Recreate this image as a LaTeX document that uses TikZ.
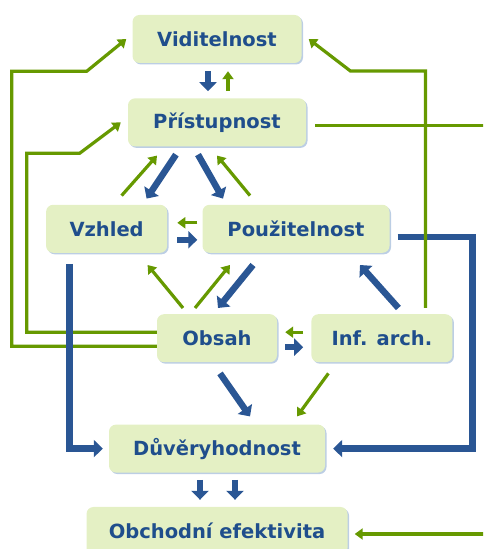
\documentclass[tikz,border=0pt]{standalone}
\usepackage{fontspec}
\setmainfont{DejaVu Sans}
\usetikzlibrary{positioning,arrows.meta,shadows}
\newcommand{\WebQualityUnit}{10}
\definecolor{qualityfill}{RGB}{228,240,196}
\definecolor{qualityshadow}{RGB}{188,206,228}
\definecolor{qualitytext}{RGB}{31,78,140}
\definecolor{qualityblue}{RGB}{42,86,148}
\definecolor{qualitygreen}{RGB}{102,153,0}
\tikzset{
	qualitybox/.style={rounded corners=7pt, fill=qualityfill, minimum height=48pt, inner sep=0pt,
		text=qualitytext, font=\fontsize{19.5}{22}\selectfont\bfseries,
		drop shadow={shadow xshift=1.5pt, shadow yshift=-1.5pt, fill=qualityshadow, opacity=1}},
	bluearrow/.style={draw=qualityblue, line width=6.5pt, -{Triangle[width=17pt,length=9pt]}},
	greenarrow/.style={draw=qualitygreen, line width=3.2pt, -{Triangle[width=11pt,length=8pt]}},
}

\begin{document}
\begin{tikzpicture}
		\clip (0,0) rectangle (483pt,549pt);
		\node[qualitybox, minimum width=169pt] (vid) at (217pt,510pt) {Viditelnost};
		\node[qualitybox, minimum width=178pt, below=\WebQualityUnit*3.5 pt of vid] (pri) {Přístupnost};
		\node[qualitybox, minimum width=187pt, below=\WebQualityUnit*5.8 pt of pri, xshift=\WebQualityUnit*7.9 pt] (pou) {Použitelnost};
		\node[qualitybox, minimum width=121pt, left=\WebQualityUnit*3.5 pt of pou] (vzh) {Vzhled};
		\node[qualitybox, minimum width=120pt, below=\WebQualityUnit*6.1 pt of pou, xshift=-\WebQualityUnit*7.9 pt] (obs) {Obsah};
		\node[qualitybox, minimum width=141pt, right=\WebQualityUnit*3.4 pt of obs] (inf) {Inf. arch.};
		\node[qualitybox, minimum width=216pt, below=\WebQualityUnit*6.2 pt of obs] (duv) {Důvěryhodnost};
		\node[qualitybox, minimum width=261pt, below=\WebQualityUnit*3.4 pt of duv] (obch) {Obchodní efektivita};

		\draw[greenarrow] ([yshift=-8pt]obs.west) -- ++(-145pt,0) -- ++(0,275pt) -- ++(75pt,0) -- ([xshift=-6pt]vid.west);
		\draw[greenarrow] ([yshift=6pt]obs.west) -- ++(-130pt,0) -- ++(0,179pt) -- ++(53pt,0) -- ([xshift=-7pt]pri.west);

		\draw[bluearrow] ([xshift=-9pt,yshift=-8pt]vid.south) -- ([xshift=-9pt,yshift=7pt]pri.north);
		\draw[bluearrow] ([xshift=-41pt,yshift=-8pt]pri.south) -- ([xshift=40pt,yshift=6pt]vzh.north);
		\draw[bluearrow] ([xshift=-19pt,yshift=-8pt]pri.south) -- ([xshift=-73pt,yshift=6pt]pou.north);
		\draw[bluearrow] ([xshift=10pt,yshift=-11pt]vzh.east) -- ([xshift=-5pt,yshift=-11pt]pou.west);
		\draw[bluearrow] ([xshift=-43pt,yshift=-12pt]pou.south) -- ([xshift=1pt,yshift=6pt]obs.north);
		\draw[bluearrow] ([xshift=16.5pt,yshift=6pt]inf.north) -- ([xshift=64pt,yshift=-12pt]pou.south);
		\draw[bluearrow] ([xshift=8pt,yshift=-9pt]obs.east) -- ([xshift=-8pt,yshift=-9pt]inf.west);
		\draw[bluearrow] ([xshift=-37pt,yshift=-11pt]vzh.south) |- ([xshift=-6pt]duv.west);
		\draw[bluearrow] ([xshift=8pt,yshift=-8pt]pou.east) -- ++(75pt,0) |- ([xshift=8pt]duv.east);
		\draw[bluearrow] ([xshift=3pt,yshift=-11pt]obs.south) -- ([xshift=33pt,yshift=8pt]duv.north);
		\draw[bluearrow] ([xshift=-17pt,yshift=-7pt]duv.south) -- ([xshift=-17pt,yshift=7pt]obch.north);
		\draw[bluearrow] ([xshift=18pt,yshift=-7pt]duv.south) -- ([xshift=18pt,yshift=7pt]obch.north);

		\draw[greenarrow] ([xshift=11pt,yshift=7pt]pri.north) -- ([xshift=11pt,yshift=-8pt]vid.south);
		\draw[greenarrow] ([xshift=15pt,yshift=9pt]vzh.north) -- ([xshift=-60pt,yshift=-9pt]pri.south);
		\draw[greenarrow] ([xshift=-46pt,yshift=9pt]pou.north) -- ([yshift=-9pt]pri.south);
		\draw[greenarrow] ([xshift=-5pt,yshift=6pt]pou.west) -- ([xshift=10pt,yshift=6pt]vzh.east);
		\draw[greenarrow] ([xshift=-34pt,yshift=6pt]obs.north) -- ([xshift=41pt,yshift=-12pt]vzh.south);
		\draw[greenarrow] ([xshift=-22pt,yshift=6pt]obs.north) -- ([xshift=-66pt,yshift=-12pt]pou.south);
		\draw[greenarrow] ([xshift=-8pt,yshift=6pt]inf.west) -- ([xshift=8pt,yshift=6pt]obs.east);
		\draw[greenarrow] ([xshift=-53.5pt,yshift=-11pt]inf.south) -- ([xshift=80pt,yshift=8pt]duv.north);
		\draw[greenarrow] ([xshift=43.5pt,yshift=6pt]inf.north) -- ++(0,237pt) -- ++(-75pt,0) -- ([xshift=7pt]vid.east);
		\draw[greenarrow] ([xshift=9pt,yshift=-3pt]pri.east) -- ++(200pt,0) |- ([xshift=7pt,yshift=-3pt]obch.east);
	\end{tikzpicture}
\end{document}
